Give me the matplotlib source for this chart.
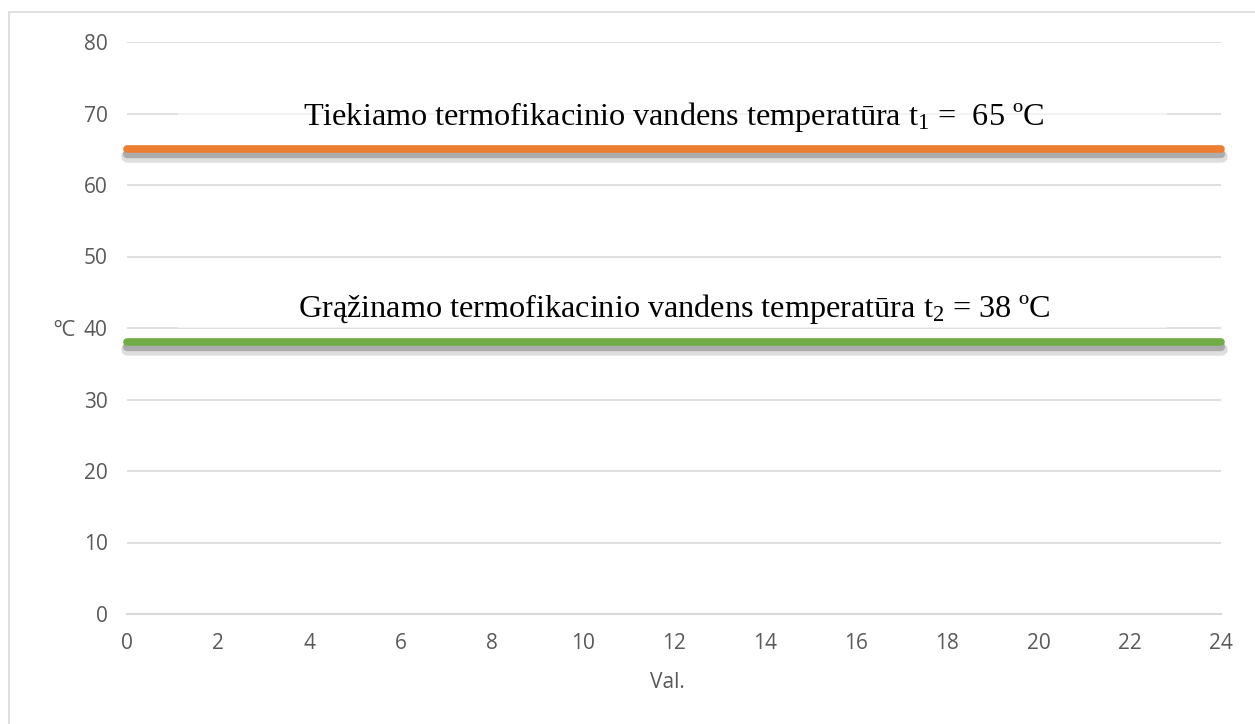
import matplotlib.pyplot as plt
import matplotlib.patheffects as pe
from matplotlib.patches import Rectangle

# hours of the day and constant water temperatures
hours = [0, 24]
supply_temp = [65, 65]
return_temp = [38, 38]

supply_label = 'Tiekiamo termofikacinio vandens temperatūra t$_1$ =  65 ºC'
return_label = 'Grąžinamo termofikacinio vandens temperatūra t$_2$ = 38 ºC'

x_ticks = list(range(0, 25, 2))
y_ticks = list(range(0, 81, 10))

plt.rcParams['mathtext.default'] = 'regular'

fig = plt.figure(figsize=(12.55, 7.24), dpi=100)
ax = fig.add_axes([127 / 1255, 1 - 614 / 724, 1094 / 1255, 572 / 724])

# light outer frame like the office chart
fig.patches.append(Rectangle((9 / 1255, -0.1), 1.2, 1 - 12 / 724 + 0.1,
                             transform=fig.transFigure, fill=False,
                             edgecolor='#d9d9d9', linewidth=1.2))

ax.set_xlim(0, 24)
ax.set_ylim(0, 80)
ax.set_xticks(x_ticks)
ax.set_yticks(y_ticks)
ax.grid(axis='y', color='#d9d9d9', linewidth=1.2)
ax.set_axisbelow(True)
for s in ['top', 'right', 'left']:
    ax.spines[s].set_visible(False)
ax.spines['bottom'].set_color('#d9d9d9')
ax.spines['bottom'].set_linewidth(1.5)
ax.tick_params(length=0, pad=14, labelsize=15, labelcolor='#595959')
for lbl in ax.get_xticklabels() + ax.get_yticklabels():
    lbl.set_family('Open Sans')

shadow = [pe.SimpleLineShadow(offset=(0, -5), shadow_color='#7f7f7f', alpha=0.25, linewidth=9),
          pe.SimpleLineShadow(offset=(0, -3.5), shadow_color='#6f6f6f', alpha=0.45, linewidth=6),
          pe.Normal()]
ax.plot(hours, supply_temp, color='#ED7D31', linewidth=5.5, solid_capstyle='round',
        path_effects=shadow, clip_on=False)
ax.plot(hours, return_temp, color='#70AD47', linewidth=5.5, solid_capstyle='round',
        path_effects=shadow, clip_on=False)

# semi-transparent label boxes that fade the grid behind the text
for yb in [68.4, 41.5]:
    ax.add_patch(Rectangle((1.12, yb - 1.5), 21.7, 5.5, facecolor='white', alpha=0.6,
                           edgecolor='none', zorder=1.5))

ax.text(12, 68.4, supply_label, ha='center', va='baseline', fontsize=23.2,
        family='Liberation Serif', color='black', zorder=5)
ax.text(12, 41.5, return_label, ha='center', va='baseline', fontsize=23.2,
        family='Liberation Serif', color='black', zorder=5)

fig.text(64 / 1255, 1 - 331 / 724, 'ºC', ha='center', va='center', fontsize=16,
         color='#595959', family='Open Sans')
fig.text(667 / 1255, 1 - 682 / 724, 'Val.', ha='center', va='center', fontsize=15,
         color='#595959', family='Open Sans')

fig.savefig('out.png', dpi=100)
